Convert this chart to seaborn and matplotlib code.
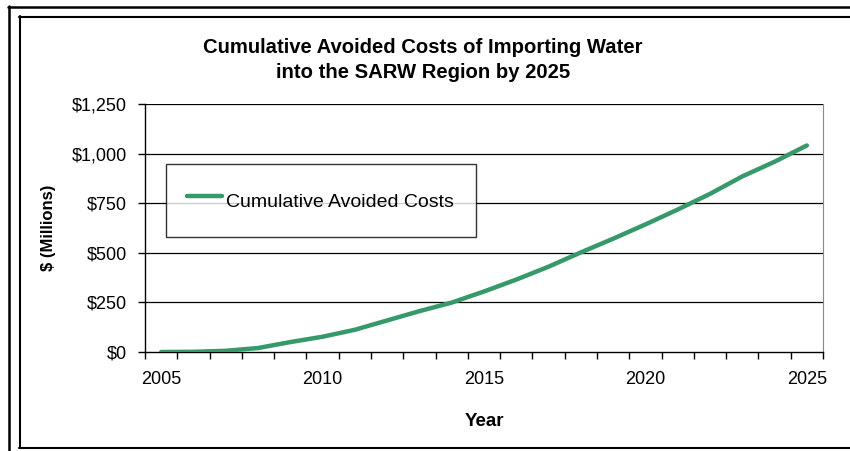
"""
Cumulative avoided costs of importing water into the SARW region, 2005-2025
"""

import numpy as np
import pandas as pd
import matplotlib
matplotlib.use('Agg')
import matplotlib.pyplot as plt
from matplotlib.lines import Line2D
from matplotlib.ticker import FuncFormatter, MultipleLocator
import seaborn as sns

# values ($ millions)
years = list(range(2005, 2026))
avoided_costs = [0, 1, 6, 20, 50, 77, 112, 159, 206, 249, 305,
                 365, 430, 502, 571, 643, 718, 797, 885, 959, 1041]
y_ticks = [0, 250, 500, 750, 1000, 1250]
x_labels = [2005, 2010, 2015, 2020, 2025]

series_name = 'Cumulative Avoided Costs'
line_color = '#35996a'

sns.set_style('white')
plt.rcParams['font.family'] = ['Liberation Sans', 'DejaVu Sans']
plt.rcParams['text.color'] = 'black'
plt.rcParams['xtick.color'] = 'black'
plt.rcParams['ytick.color'] = 'black'

df = pd.DataFrame({'Year': years, 'Cost': avoided_costs})

W, H = 850, 451
fig = plt.figure(figsize=(W / 100, H / 100), dpi=100)
ax = fig.add_axes([145 / W, 1 - 352 / H, (823 - 145) / W, (352 - 104) / H])

# gridlines first so the legend box covers them
for v in y_ticks[1:]:
    ax.axhline(v, color='black', lw=0.9, zorder=1)

sns.lineplot(data=df, x='Year', y='Cost', ax=ax, color=line_color,
             lw=3.2, label=series_name, zorder=3)

ax.set_xlim(2004.5, 2025.5)
ax.set_ylim(0, 1250)
ax.set_yticks(y_ticks)
ax.yaxis.set_major_formatter(FuncFormatter(lambda v, p: f'${v:,.0f}'))
ax.set_xticks(x_labels)
ax.xaxis.set_minor_locator(MultipleLocator(1, offset=0.5))
ax.tick_params(axis='x', which='major', length=0, pad=14, labelsize=13)
ax.tick_params(axis='x', which='minor', length=5, width=1, direction='out',
               bottom=True, color='black')
ax.tick_params(axis='y', length=5, width=1, direction='out', left=True,
               pad=8, labelsize=13, color='black')
ax.set_xlabel('')
ax.set_ylabel('')

for side in ['left', 'bottom']:
    ax.spines[side].set_color('black')
    ax.spines[side].set_linewidth(1)
ax.spines['right'].set_color('#8a8a8a')
ax.spines['top'].set_visible(False)

leg = ax.legend(loc='upper left', bbox_to_anchor=(0.031, 0.758),
                borderaxespad=0, frameon=True, fancybox=False, shadow=False,
                fontsize=14, borderpad=1.1, handlelength=1.8,
                handletextpad=0.2, handleheight=2.0)
leg.get_frame().set_edgecolor('black')
leg.get_frame().set_linewidth(1)
leg.set_zorder(5)
for t in leg.get_texts():
    t.set_color('black')

fig.text(423 / W, 1 - 60 / H,
         'Cumulative Avoided Costs of Importing Water\ninto the SARW Region by 2025',
         ha='center', va='center', fontsize=14.6, fontweight='bold', linespacing=1.4)
fig.text(48 / W, 1 - 228 / H, '$ (Millions)', rotation=90, ha='center',
         va='center', fontsize=12, fontweight='bold')
fig.text(484 / W, 1 - 422 / H, 'Year', ha='center', va='center',
         fontsize=13.5, fontweight='bold')

# double frame around the chart
def frame_line(xs, ys, lw):
    fig.add_artist(Line2D([x / W for x in xs], [1 - y / H for y in ys],
                          color='black', lw=lw, transform=fig.transFigure))

frame_line([8, 850], [6.5, 6.5], 1.8)
frame_line([9, 9], [6, 451], 1.8)
frame_line([19, 850], [16.5, 16.5], 1.5)
frame_line([20, 20], [16, 448], 1.5)
frame_line([19, 850], [448, 448], 1.5)

fig.savefig('out.png', dpi=100)
